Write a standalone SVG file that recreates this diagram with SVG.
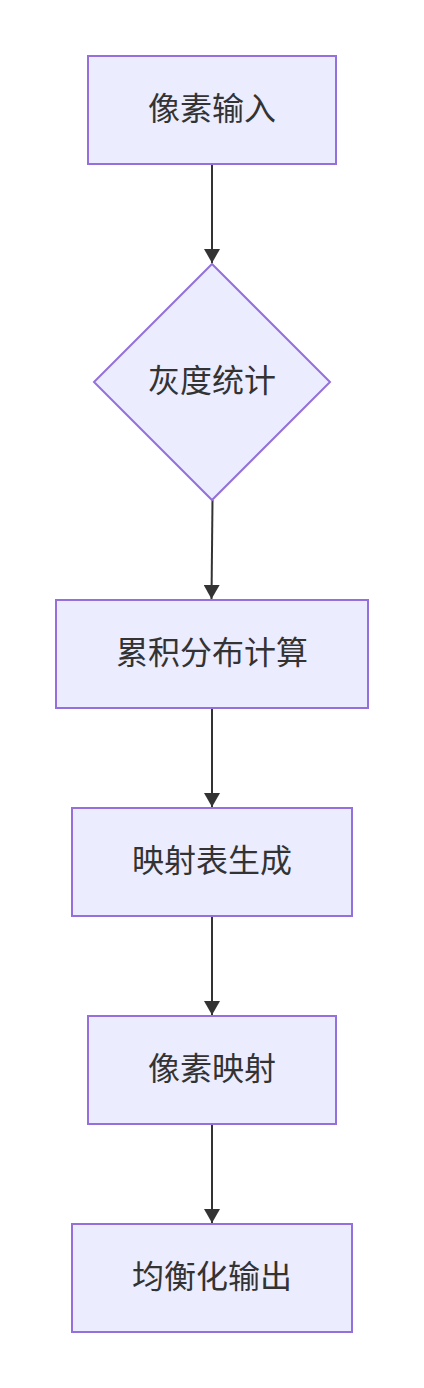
<svg xmlns="http://www.w3.org/2000/svg" width="424" height="1388" viewBox="0 0 424 1388">
<defs>
<style>
.node{fill:#ECECFF;stroke:#9370DB;stroke-width:2;}
.lbl{font-family:"Noto Sans CJK SC","Noto Sans",sans-serif;font-size:32px;fill:#333333;text-anchor:middle;}
.edge{stroke:#333333;stroke-width:2;fill:none;}
</style>
<marker id="arr" markerWidth="14" markerHeight="16" refX="14" refY="8" orient="auto" markerUnits="userSpaceOnUse" viewBox="0 0 14 16">
<path d="M0,0 L14,8 L0,16 Z" fill="#333333"/>
</marker>
</defs>
<rect width="424" height="1388" fill="#ffffff"/>
<g id="edges">
<path class="edge" d="M212,164 L212,263" marker-end="url(#arr)"/>
<path class="edge" d="M212.5,500 L211.5,599" marker-end="url(#arr)"/>
<path class="edge" d="M212,708 L212,807" marker-end="url(#arr)"/>
<path class="edge" d="M212,916 L212,1015" marker-end="url(#arr)"/>
<path class="edge" d="M212,1124 L212,1223" marker-end="url(#arr)"/>
</g>
<g id="n1">
<rect class="node" x="88" y="56" width="248" height="108"/>
<text class="lbl" x="212" y="119.5">像素输入</text>
</g>
<g id="n2">
<polygon class="node" points="212,264 330,382 212,500 94,382"/>
<text class="lbl" x="212" y="391.5">灰度统计</text>
</g>
<g id="n3">
<rect class="node" x="56" y="600" width="312" height="108"/>
<text class="lbl" x="212" y="663.5">累积分布计算</text>
</g>
<g id="n4">
<rect class="node" x="72" y="808" width="280" height="108"/>
<text class="lbl" x="212" y="871.5">映射表生成</text>
</g>
<g id="n5">
<rect class="node" x="88" y="1016" width="248" height="108"/>
<text class="lbl" x="212" y="1079.5">像素映射</text>
</g>
<g id="n6">
<rect class="node" x="72" y="1224" width="280" height="108"/>
<text class="lbl" x="212" y="1287.5">均衡化输出</text>
</g>
</svg>
